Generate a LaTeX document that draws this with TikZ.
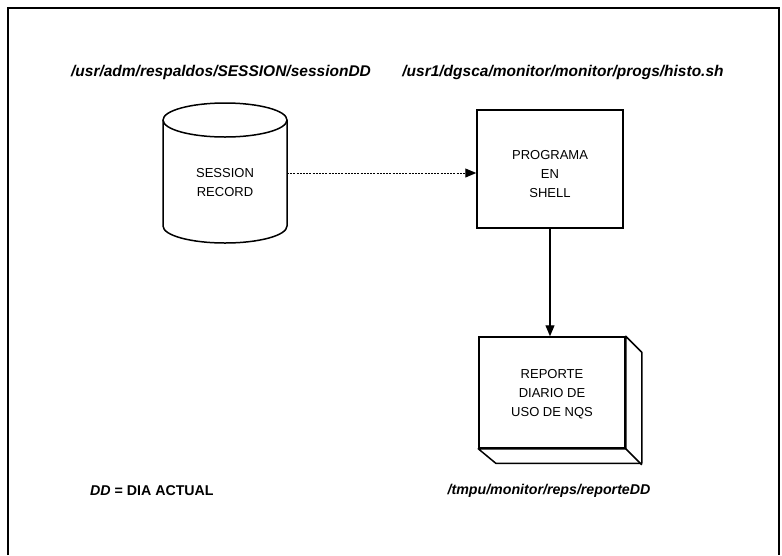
\documentclass[tikz,border=0pt]{standalone}
\usepackage{fontspec}
\setmainfont{Liberation Sans}
\usetikzlibrary{arrows.meta,calc}

\tikzset{
  pathlabel/.style={font=\fontsize{15.5}{17}\selectfont\bfseries\itshape, inner sep=0pt},
  footlabel/.style={font=\fontsize{14.2}{16}\selectfont\bfseries\itshape, inner sep=0pt},
  boxtext/.style={font=\fontsize{13}{19}\selectfont, align=center, inner sep=0pt},
  outline/.style={line width=1.5pt},
  procbox/.style={draw, outline, fill=white,
    minimum width=146pt, minimum height=118pt, inner sep=0pt},
  repbox/.style={draw, outline, fill=white,
    minimum width=146pt, minimum height=111pt, inner sep=0pt},
  tip/.style={-{Triangle[length=11pt,width=9pt]}},
  flow/.style={line width=1.2pt, tip},
  dashflow/.style={line width=1pt, dash pattern=on 2pt off 1.2pt, tip},
}

\begin{document}
\begin{tikzpicture}[x=1pt, y=-1pt]
  \useasboundingbox (0,0) rectangle (782,555);

  % outer frame, open at the bottom
  \draw[line width=1.8pt] (8,555) -- (8,8) -- (779,8) -- (779,555);

  % path labels
  \node[pathlabel] (srcpath) at (221,72) {/usr/adm/respaldos/SESSION/sessionDD};
  \node[pathlabel] (prgpath) at (563,72) {/usr1/dgsca/monitor/monitor/progs/histo.sh};
  \node[footlabel, anchor=west] (legend) at (90,491)
    {DD {\upshape= DIA ACTUAL}};
  \node[footlabel] (reppath) at (549,491) {/tmpu/monitor/reps/reporteDD};

  % session record store (cylinder)
  \filldraw[fill=white, outline]
    (163,120) -- (163,226) arc[start angle=180, end angle=0, x radius=62, y radius=17]
    -- (287,120) arc[start angle=0, end angle=-180, x radius=62, y radius=17] -- cycle;
  \draw[outline] (163,120) arc[start angle=180, end angle=0, x radius=62, y radius=17];
  \node[boxtext, minimum width=124pt, minimum height=100pt]
    (session) at (225,183) {SESSION\\RECORD};
  \coordinate (dashstart) at (287,173);

  % shell program
  \node[procbox] (prog) at (550,169) {};
  \node[boxtext] (progtext) at (550,174) {PROGRAMA\\EN\\SHELL};

  % daily report with raised edges
  \node[repbox] (rep) at (552,392.5) {};
  \node[boxtext] (reptext) at (552,394) {REPORTE\\DIARIO DE\\USO DE NQS};
  \filldraw[fill=white, outline, line join=round]
    (rep.north east) -- ++(16,16) -- ++(0,111) -- ++(-146,0) -- (rep.south west)
    -- (rep.south east) -- cycle;
  \draw[outline] (rep.south east) -- ++(16,16);

  % connectors
  \draw[dashflow] (dashstart) -- (dashstart -| prog.west);
  \draw[flow] (prog.south) -- (prog.south |- rep.north);
\end{tikzpicture}
\end{document}
